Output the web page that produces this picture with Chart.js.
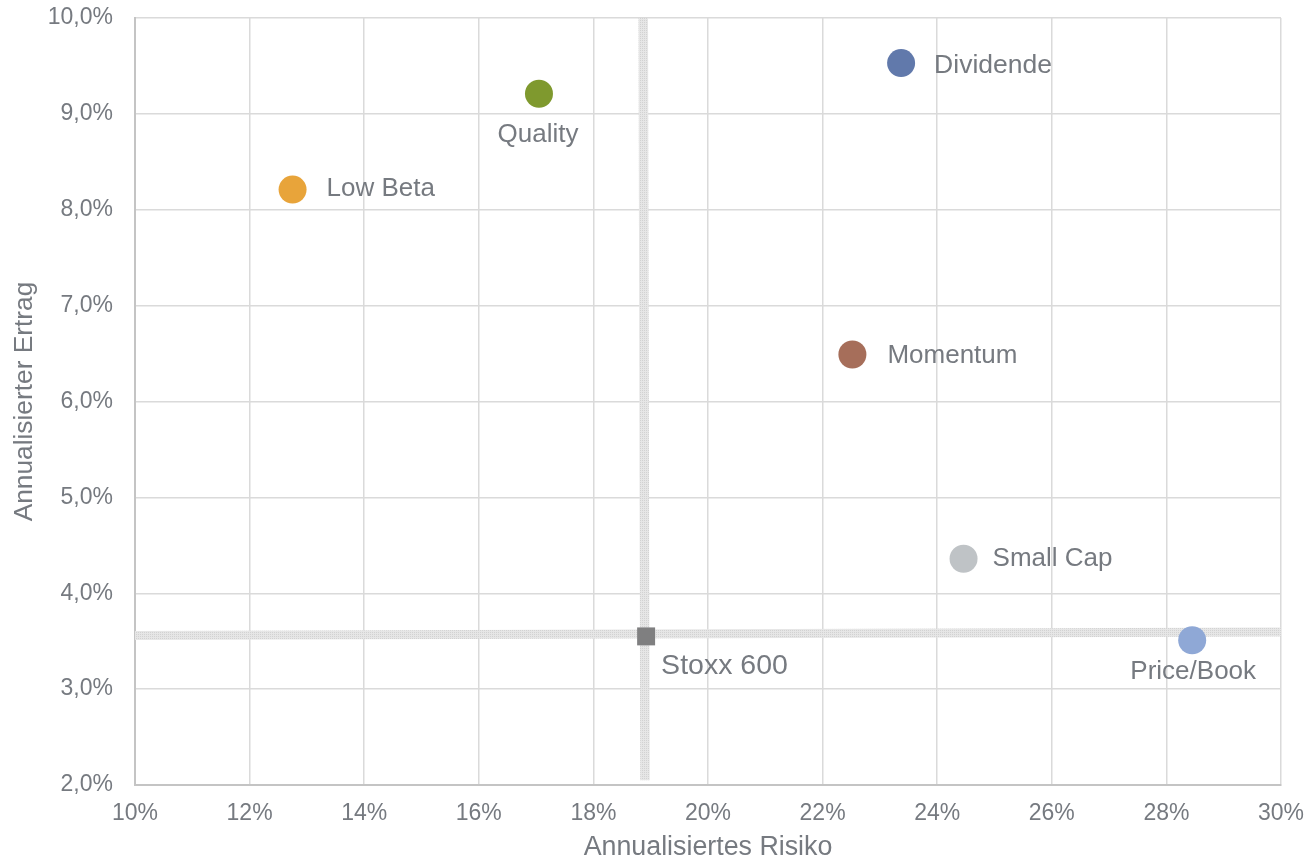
<!DOCTYPE html>
<html>
<head>
<meta charset="utf-8">
<script src="https://cdn.jsdelivr.net/npm/chart.js@4/dist/chart.umd.min.js"></script>
<style>
  html, body { margin: 0; padding: 0; background: #ffffff; }
  #wrap { width: 1309px; height: 862px; }
</style>
</head>
<body>
<div id="wrap"><canvas id="c" width="1309" height="862"></canvas></div>
<script>
// ---- data ----
const names  = ['Low Beta', 'Quality', 'Dividende', 'Momentum', 'Small Cap', 'Price/Book', 'Stoxx 600'];
const risk   = [12.75, 17.05, 23.37, 22.52, 24.46, 28.45, 18.92];   // annualised risk, %
const ret    = [8.21, 9.21, 9.53, 6.49, 4.36, 3.51, 3.55];          // annualised return, %
const colors = ['#E8A43A', '#7F992E', '#6179AB', '#A66E5A', '#BFC3C6', '#8FA8D6', '#7F7F80'];

// benchmark cross-hair lines (Stoxx 600)
const vLineX = [18.87, 18.90];
const vLineY = [10.0, 2.05];
const hLineX = [10, 30];
const hLineY = [3.56, 3.595];

// axis ranges
const xRange = [10, 30];
const yRange = [2, 10];

// ---- label placement (style) ----
const labelStyle = [
  { dx: 34, dy: 6,  align: 'left',   size: 26 },
  { dx: -1, dy: 48, align: 'center', size: 26 },
  { dx: 33, dy: 10, align: 'left',   size: 26.5 },
  { dx: 35, dy: 8,  align: 'left',   size: 26 },
  { dx: 29, dy: 7,  align: 'left',   size: 26 },
  { dx: 1,  dy: 39, align: 'center', size: 26 },
  { dx: 15, dy: 38, align: 'left',   size: 28.5 }
];

const FONT = "'Liberation Sans', Arial, sans-serif";
const TEXT = '#767a80';

function makePattern() {
  const p = document.createElement('canvas');
  p.width = 4; p.height = 4;
  const g = p.getContext('2d');
  g.fillStyle = '#e6e6e6';
  g.fillRect(0, 0, 4, 4);
  g.fillStyle = '#d2d2d2';
  g.fillRect(0, 0, 1, 1); g.fillRect(2, 2, 1, 1);
  g.fillRect(2, 0, 1, 1); g.fillRect(0, 2, 1, 1);
  return document.getElementById('c').getContext('2d').createPattern(p, 'repeat');
}
const bandPattern = makePattern();

const labelPlugin = {
  id: 'pointLabels',
  afterDatasetsDraw(chart) {
    const ctx = chart.ctx;
    const meta = chart.getDatasetMeta(0);
    ctx.save();
    ctx.fillStyle = TEXT;
    ctx.textBaseline = 'alphabetic';
    meta.data.forEach((pt, i) => {
      const s = labelStyle[i];
      ctx.font = s.size + 'px ' + FONT;
      ctx.textAlign = s.align;
      ctx.fillText(names[i], pt.x + s.dx, pt.y + s.dy);
    });
    ctx.restore();
  }
};

const points = risk.map((x, i) => ({ x: x, y: ret[i] }));

new Chart(document.getElementById('c'), {
  type: 'scatter',
  data: {
    datasets: [
      {
        label: 'Faktoren',
        data: points,
        backgroundColor: colors,
        borderColor: colors,
        borderWidth: 0,
        pointRadius: names.map(n => n === 'Stoxx 600' ? 12.7 : 14),
        pointStyle: names.map(n => n === 'Stoxx 600' ? 'rect' : 'circle'),
        order: 0
      },
      {
        label: 'v',
        data: vLineX.map((x, i) => ({ x: x, y: vLineY[i] })),
        showLine: true,
        borderColor: bandPattern,
        borderWidth: 9.5,
        pointRadius: 0,
        borderCapStyle: 'butt',
        order: 2
      },
      {
        label: 'h',
        data: hLineX.map((x, i) => ({ x: x, y: hLineY[i] })),
        showLine: true,
        borderColor: bandPattern,
        borderWidth: 9,
        pointRadius: 0,
        borderCapStyle: 'butt',
        order: 1
      }
    ]
  },
  options: {
    responsive: false,
    devicePixelRatio: 1,
    animation: false,
    layout: { padding: { top: 18, right: 28, bottom: 0, left: 0 } },
    plugins: {
      legend: { display: false },
      tooltip: { enabled: false }
    },
    scales: {
      x: {
        type: 'linear',
        min: xRange[0], max: xRange[1],
        ticks: {
          stepSize: 2,
          padding: 15,
          color: TEXT,
          font: { family: FONT, size: 23 },
          callback: v => v + '%'
        },
        grid: { color: '#dadada', lineWidth: 1.5, drawTicks: false },
        border: { color: '#c4c4c4', width: 2 },
        title: {
          display: true,
          text: 'Annualisiertes Risiko',
          color: TEXT,
          font: { family: FONT, size: 26.8, lineHeight: 1 },
          padding: { top: 0, bottom: 1 }
        },
        afterFit(scale) {
          scale.height = 77;
          scale.paddingLeft = 0; scale.paddingRight = 0;
          scale.paddingTop = 0; scale.paddingBottom = 0;
        }
      },
      y: {
        type: 'linear',
        min: yRange[0], max: yRange[1],
        ticks: {
          stepSize: 1,
          padding: 22,
          color: TEXT,
          font: { family: FONT, size: 23 },
          callback: v => v.toFixed(1).replace('.', ',') + '%'
        },
        grid: { color: '#dadada', lineWidth: 1.5, drawTicks: false },
        border: { color: '#c4c4c4', width: 2 },
        title: {
          display: true,
          text: 'Annualisierter Ertrag',
          color: TEXT,
          font: { family: FONT, size: 26.3, lineHeight: 1 },
          padding: { top: 12, bottom: 0 }
        },
        afterFit(scale) {
          scale.width = 135;
          scale.paddingLeft = 0; scale.paddingRight = 0;
          scale.paddingTop = 0; scale.paddingBottom = 0;
        }
      }
    }
  },
  plugins: [labelPlugin]
});
</script>
</body>
</html>
